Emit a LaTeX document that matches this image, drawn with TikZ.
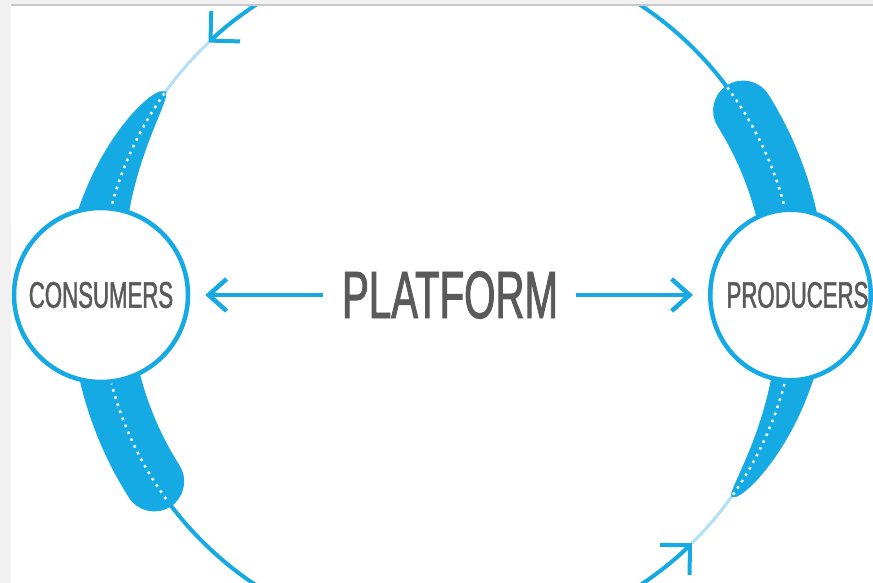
\documentclass[tikz,border=0pt]{standalone}
\usepackage{fontspec}
\usetikzlibrary{arrows.meta,shapes.geometric,calc}
\newfontfamily\lblfont[FakeStretch=0.6,FakeBold=1.3]{Liberation Sans}
\definecolor{flowblue}{RGB}{22,170,228}
\definecolor{paleblue}{RGB}{178,224,246}
\definecolor{labelgray}{RGB}{90,90,90}
\definecolor{framegray}{RGB}{241,241,241}
\definecolor{frameline}{RGB}{200,200,200}

\begin{document}
\begin{tikzpicture}[x=1pt,y=1pt,
  ring/.style={draw=flowblue, line width=4.5pt, fill=white, inner sep=0pt,
    text=labelgray, font=\lblfont\fontsize{37}{40}\selectfont},
  flow/.style={draw=flowblue, line width=4pt},
  sideflow/.style={draw=flowblue, line width=4.5pt},
  fade/.style={draw=paleblue, line width=3pt},
  band/.style={draw=flowblue, line width=60pt, line cap=round},
  dots/.style={draw=white, line width=2.5pt, dash pattern=on 2.5pt off 5pt},
  barb/.style={-{Straight Barb[length=21pt,width=42pt]}},
  sidebarb/.style={-{Straight Barb[length=18pt,width=32pt]}},
  lbl/.style={text=labelgray, font=\lblfont\fontsize{67}{70}\selectfont, inner sep=0pt}
]
\useasboundingbox (0,0) rectangle (873,583);
\fill[white] (0,0) rectangle (873,583);

\begin{scope}
\clip (11,0) rectangle (873,577);

% the cycle drawn round the platform
\begin{scope}[shift={(448,288)}]
  \coordinate (C) at (0,0);
  % plain stretches of the cycle
  \draw[flow, barb] (121:348) arc[start angle=121, end angle=133.5, radius=348];
  \draw[fade] (133.5:348) arc[start angle=133.5, end angle=145, radius=348];
  \draw[flow] (36:348) arc[start angle=36, end angle=59, radius=348];
  \draw[flow] (214:348) arc[start angle=214, end angle=239, radius=348];
  \draw[flow, barb] (-59:348) arc[start angle=-59, end angle=-45.5, radius=348];
  \draw[fade] (-45.5:348) arc[start angle=-45.5, end angle=-35, radius=348];

  % tapering wedges
  \fill[flowblue]
    plot[variable=\t, domain=144.2:172, samples=50] (\t:{348+6.6*sqrt(max(\t-144.2,0))})
    -- plot[variable=\t, domain=172:144.2, samples=50] (\t:{348-4.0*sqrt(max(\t-144.2,0))})
    -- cycle;
  \fill[flowblue]
    plot[variable=\t, domain=-35.5:-8, samples=50] (\t:{348+5.7*sqrt(max(\t+35.5,0))})
    -- plot[variable=\t, domain=-8:-35.5, samples=50] (\t:{348-3.1*sqrt(max(\t+35.5,0))})
    -- cycle;

  % thick rounded bands
  \draw[band] (32:348) arc[start angle=32, end angle=8, radius=348];
  \draw[band] (190:348) arc[start angle=190, end angle=212.4, radius=348];

  % dotted centre lines
  \draw[dots] (144.6:348) arc[start angle=144.6, end angle=168, radius=348];
  \draw[dots] (36.6:348) arc[start angle=36.6, end angle=12, radius=348];
  \draw[dots] (192:348) arc[start angle=192, end angle=216.3, radius=348];
  \draw[dots] (-35:348) arc[start angle=-35, end angle=-12, radius=348];
\end{scope}

% the two sides of the market
\node[ring, circle, minimum size=174pt] (consumers) at (101,288) {CONSUMERS};
\node[ring, ellipse, minimum width=160.5pt, minimum height=170.5pt] (producers) at (790.5,288)
  {\makebox[0pt][c]{\kern14pt PRODUCERS}};

% the platform in the middle
\node[lbl] (platform) at (450,288) {PLATFORM};
\draw[sideflow, sidebarb, shorten <=19pt, shorten >=15pt] (platform.west) -- (consumers.east);
\draw[sideflow, sidebarb, shorten <=18pt, shorten >=15pt] (platform.east) -- (producers.west);
\end{scope}

% page frame
\fill[framegray] (0,0) rectangle (11,583);
\fill[framegray] (0,579) rectangle (873,583);
\fill[frameline] (11,577) rectangle (873,579);
\end{tikzpicture}
\end{document}
